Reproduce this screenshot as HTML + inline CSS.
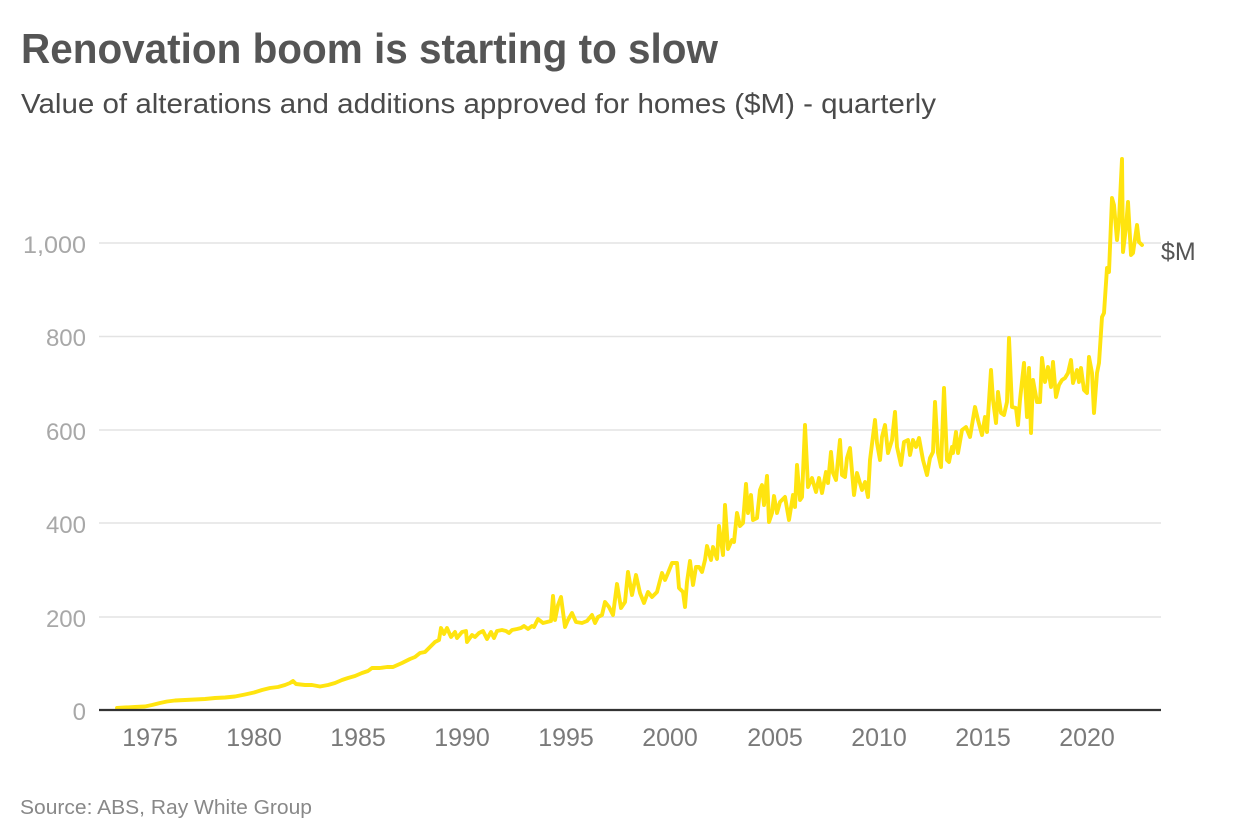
<!DOCTYPE html>
<html>
<head>
<meta charset="utf-8">
<style>
  html, body { margin: 0; padding: 0; background: #ffffff; }
  svg { display: block; }
  text { font-family: "Liberation Sans", "DejaVu Sans", sans-serif; }
</style>
</head>
<body>
<svg width="1240" height="840" viewBox="0 0 1240 840" xmlns="http://www.w3.org/2000/svg">
  <rect x="0" y="0" width="1240" height="840" fill="#ffffff"/>

  <!-- Title & subtitle -->
  <text x="21" y="63" font-size="42" font-weight="bold" fill="#555555" textLength="697" lengthAdjust="spacingAndGlyphs">Renovation boom is starting to slow</text>
  <text x="21" y="113" font-size="28" fill="#4a4a4a" textLength="915" lengthAdjust="spacingAndGlyphs">Value of alterations and additions approved for homes ($M) - quarterly</text>

  <!-- Gridlines -->
  <g stroke="#e3e3e3" stroke-width="1.5">
    <line x1="99" y1="243" x2="1161" y2="243"/>
    <line x1="99" y1="336.5" x2="1161" y2="336.5"/>
    <line x1="99" y1="430" x2="1161" y2="430"/>
    <line x1="99" y1="523" x2="1161" y2="523"/>
    <line x1="99" y1="617" x2="1161" y2="617"/>
  </g>

  <!-- Y labels -->
  <g font-size="24" fill="#a8a8a8" text-anchor="end">
    <text x="86" y="253" textLength="63" lengthAdjust="spacingAndGlyphs">1,000</text>
    <text x="86" y="346">800</text>
    <text x="86" y="440">600</text>
    <text x="86" y="533">400</text>
    <text x="86" y="627">200</text>
    <text x="86" y="720">0</text>
  </g>

  <!-- Data line -->
  <polyline fill="none" stroke="#FFE40F" stroke-width="3.9" stroke-linejoin="round" stroke-linecap="round" points="
117,708 125,707.5 135,707 145,706.5 152,705 160,703 167,701.5 175,700.5 185,700 195,699.5 205,699 215,698 225,697.5 235,696.5 245,694.5 254,692.5 262,690 270,688 278,687 285,685 290,683 293,681 296,684 305,685 312,685 320,686.5 328,685 335,683 342,680 348,678 355,676 362,673 368,671 372,668 380,668 387,667 393,667 402,663 410,659 415,657 420,653 425,652 430,647 435,642 439,640 441,628 444,634 447,628 451,637 455,632 457,638 462,632 466,631 467,642 472,635 475,637 479,633 483,631 487,639 491,632 494,638 497,631 502,630 506,631 509,633 512,630 517,629 521,628 524,626 528,629 532,626 534,627 538,619 543,623 547,622 551,621 553,596 555,620 558,605 561,597 565,627 568,620 572,613 576,622 582,623 587,621 592,615 595,623 598,617 602,615 605,602 609,607 613,615 617,584 621,608 625,602 628,572 632,595 636,575 640,593 644,603 648,592 652,597 657,592 662,573 665,580 668,573 672,563 677,563 679,588 683,592 685,607 687,582 690,561 693,585 696,567 699,567 702,572 705,560 707,546 711,560 713,547 717,559 719,526 723,555 725,505 728,549 732,540 734,542 737,513 740,526 743,523 746,484 748,513 751,495 753,520 757,518 760,490 762,485 764,505 767,476 769,522 772,513 774,496 777,513 780,502 785,497 789,520 793,495 795,507 797,465 800,500 802,497 805,425 808,487 812,478 816,492 819,478 822,493 826,472 828,483 831,452 833,473 836,480 840,440 842,475 845,477 847,458 850,448 854,495 857,473 862,490 865,482 868,497 870,460 875,420 877,443 880,460 882,437 885,425 888,453 892,440 895,412 897,447 901,465 904,442 908,440 910,455 913,440 916,447 919,438 923,460 927,475 930,458 933,452 935,402 938,453 941,467 944,388 947,460 949,462 952,447 953,453 956,432 958,453 962,430 966,427 970,437 975,407 978,420 982,435 985,417 987,432 991,370 993,400 996,423 998,392 1001,413 1004,415 1007,402 1009,338 1012,407 1016,408 1018,425 1020,400 1024,363 1027,417 1029,368 1031,433 1033,380 1037,402 1040,402 1042,358 1045,382 1048,367 1051,387 1053,362 1056,397 1059,385 1062,380 1065,378 1068,373 1071,360 1073,383 1077,370 1079,382 1081,368 1084,390 1087,393 1089,357 1092,373 1094,413 1097,373 1099,363 1102,317 1104,313 1107,268 1109,272 1112,198 1114,205 1117,240 1119,220 1122,159 1123,252 1126,227 1128,202 1131,255 1133,253 1137,225 1139,242 1142,245"/>

  <!-- Baseline axis -->
  <line x1="99" y1="710" x2="1161" y2="710" stroke="#333333" stroke-width="2.2"/>

  <!-- X labels -->
  <g font-size="25" fill="#7a7a7a" text-anchor="middle">
    <text x="150" y="746">1975</text>
    <text x="254" y="746">1980</text>
    <text x="358" y="746">1985</text>
    <text x="462" y="746">1990</text>
    <text x="566" y="746">1995</text>
    <text x="670" y="746">2000</text>
    <text x="775" y="746">2005</text>
    <text x="879" y="746">2010</text>
    <text x="983" y="746">2015</text>
    <text x="1087" y="746">2020</text>
  </g>

  <!-- Series label -->
  <text x="1161" y="260" font-size="25" fill="#555555">$M</text>

  <!-- Source -->
  <text x="20" y="814" font-size="20" fill="#888888" textLength="292" lengthAdjust="spacingAndGlyphs">Source: ABS, Ray White Group</text>
</svg>
</body>
</html>
